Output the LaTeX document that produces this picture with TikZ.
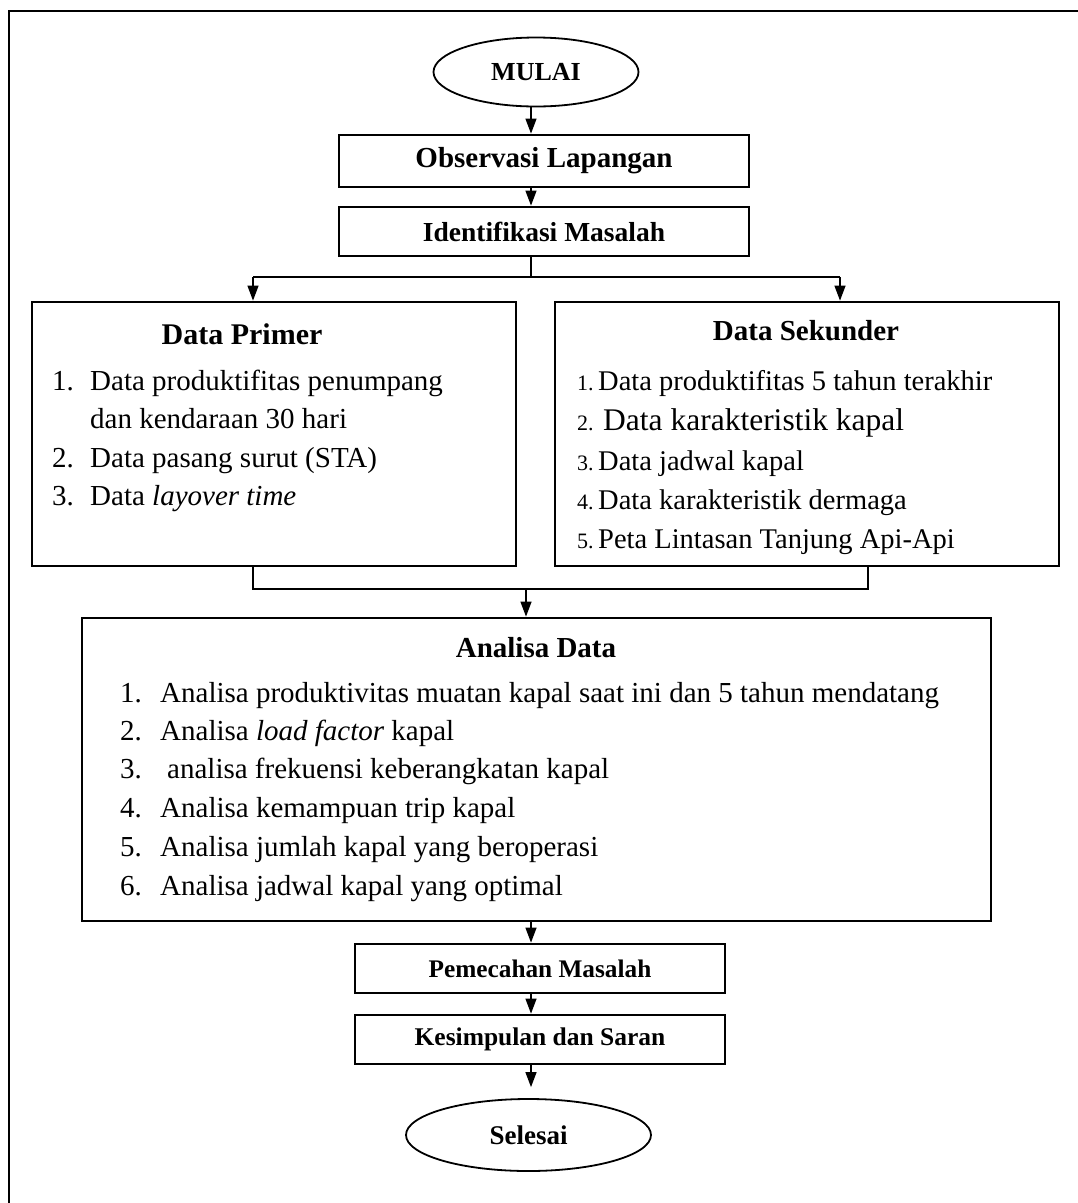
\documentclass[tikz,border=0pt]{standalone}
\usepackage{fontspec}
\setmainfont{Liberation Serif}
\usetikzlibrary{arrows.meta,shapes.geometric}
\newcommand\fs[1]{\fontsize{#1}{#1}\selectfont}
\begin{document}
\begin{tikzpicture}[x=1pt,y=-1pt,
  frame/.style={line width=2.8pt},
  boxline/.style={draw, line width=2.8pt, inner sep=0pt, rectangle},
  ovalline/.style={draw, line width=1.8pt, ellipse, inner sep=0pt},
  conn/.style={line width=1.3pt},
  arr/.style={conn, -{Triangle[length=15pt,width=11pt]}},
  item/.style={inner sep=0pt, anchor=base west, font=\fs{29}},
  num/.style={inner sep=0pt, anchor=base west, font=\fs{29}},
  title/.style={inner sep=0pt, anchor=base, font=\bfseries\fs{29}},
  snum/.style={inner sep=0pt, anchor=base west, font=\fs{22}},
  sitem/.style={inner sep=0pt, anchor=base west, font=\fs{28.5}},
]
\useasboundingbox (0,0) rectangle (1078,1203);
\draw[frame] (1078,11) -- (9,11) -- (9,1203);

\node[ovalline, minimum width=205pt, minimum height=69pt, font=\bfseries\fs{26}] (mulai) at (536,72) {MULAI};
\node[boxline, minimum width=410pt, minimum height=52pt, font=\bfseries\fs{29}] (obs) at (544,161) {Observasi Lapangan};
\node[boxline, minimum width=410pt, minimum height=49pt, font=\bfseries\fs{27.5}] (ident) at (544,231.5) {Identifikasi Masalah};
\node[boxline, minimum width=484pt, minimum height=264pt] (prim) at (274,434) {};
\node[boxline, minimum width=504pt, minimum height=264pt] (sek) at (807,434) {};
\node[boxline, minimum width=909pt, minimum height=303pt] (ana) at (536.5,769.5) {};
\node[boxline, minimum width=370pt, minimum height=49pt, font=\bfseries\fs{25.3}] (pem) at (540,968.5) {Pemecahan Masalah};
\node[boxline, minimum width=370pt, minimum height=49pt, font=\bfseries\fs{25.5}] (kes) at (540,1039.5) {Kesimpulan dan Saran};
\node[ovalline, minimum width=245pt, minimum height=72pt, font=\bfseries\fs{27}] (sel) at (528.5,1135) {Selesai};

\coordinate (ax) at (531,0);
\coordinate (bl) at (253,277);
\coordinate (br) at (840,277);
\coordinate (bm) at (531,277);
\coordinate (ml) at (253,589);
\coordinate (mr) at (868,589);
\coordinate (mm) at (526,589);

\draw[arr] (mulai.south -| ax) -- (obs.north -| ax);
\draw[arr] (obs.south -| ax) -- (ident.north -| ax);
\draw[conn] (ident.south -| ax) -- (bm);
\draw[conn] (bl) -- (br);
\draw[arr] (bl) -- (prim.north -| bl);
\draw[arr] (br) -- (sek.north -| br);
\draw[conn] (prim.south -| ml) -- (ml) -- (mr) -- (sek.south -| mr);
\draw[arr] (mm) -- (ana.north -| mm);
\draw[arr] (ana.south -| ax) -- (pem.north -| ax);
\draw[arr] (pem.south -| ax) -- (kes.north -| ax);
\draw[arr, shorten >=11pt] (kes.south -| ax) -- (sel.north -| ax);

% Data Primer
\node[title, font=\bfseries\fs{30}] (ptitle) at (242,344) {Data Primer};
\node[num] (p1n) at (52,390) {1.};
\node[item] (p1) at (90,390) {Data produktifitas penumpang};
\node[item] (p1b) at (90,428) {dan kendaraan 30 hari};
\node[num] (p2n) at (52,467) {2.};
\node[item] (p2) at (90,467) {Data pasang surut (STA)};
\node[num] (p3n) at (52,505) {3.};
\node[item] (p3) at (90,505) {Data \textit{layover time}};

% Data Sekunder
\node[title] (stitle) at (806,340) {Data Sekunder};
\node[snum] (s1n) at (577,390) {1.};
\node[sitem] (s1) at (598,390) {Data produktifitas 5 tahun terakhir};
\node[snum] (s2n) at (577,430) {2.};
\node[sitem, font=\fs{31.5}] (s2) at (603,430) {Data karakteristik kapal};
\node[snum] (s3n) at (577,470) {3.};
\node[sitem] (s3) at (598,470) {Data jadwal kapal};
\node[snum] (s4n) at (577,509) {4.};
\node[sitem] (s4) at (598,509) {Data karakteristik dermaga};
\node[snum] (s5n) at (577,548) {5.};
\node[sitem] (s5) at (598,548) {Peta Lintasan Tanjung Api-Api};

% Analisa Data
\node[title] (atitle) at (536,657) {Analisa Data};
\node[num] (a1n) at (120,702) {1.};
\node[item] (a1) at (160,702) {Analisa produktivitas muatan kapal saat ini dan 5 tahun mendatang};
\node[num] (a2n) at (120,740) {2.};
\node[item] (a2) at (160,740) {Analisa \textit{load factor} kapal};
\node[num] (a3n) at (120,778) {3.};
\node[item] (a3) at (167,778) {analisa frekuensi keberangkatan kapal};
\node[num] (a4n) at (120,817) {4.};
\node[item] (a4) at (160,817) {Analisa kemampuan trip kapal};
\node[num] (a5n) at (120,856) {5.};
\node[item] (a5) at (160,856) {Analisa jumlah kapal yang beroperasi};
\node[num] (a6n) at (120,895) {6.};
\node[item] (a6) at (160,895) {Analisa jadwal kapal yang optimal};
\end{tikzpicture}
\end{document}
